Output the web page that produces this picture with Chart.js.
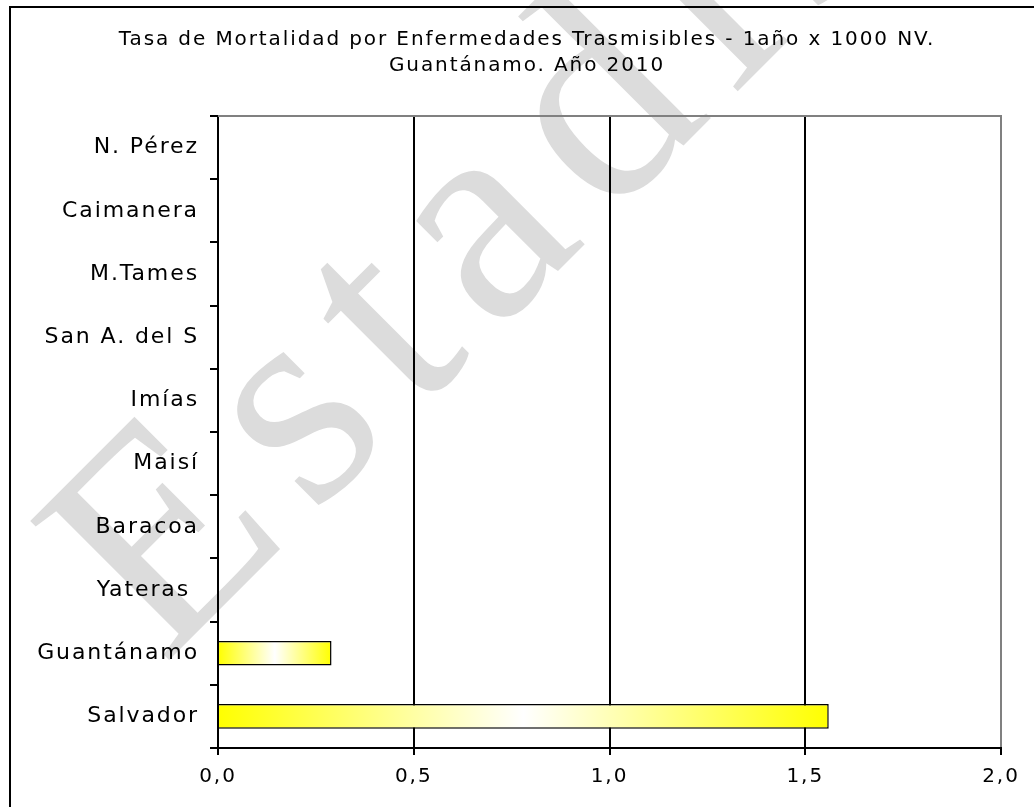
<!DOCTYPE html>
<html>
<head>
<meta charset="utf-8">
<script src="https://cdn.jsdelivr.net/npm/chart.js@4"></script>
<style>
  html, body { margin: 0; padding: 0; background: #fff; }
  canvas { display: block; }
</style>
</head>
<body>
<canvas id="myChart" width="1034" height="807"></canvas>
<script>
const categories = ['N. Pérez', 'Caimanera', 'M.Tames', 'San A. del S', 'Imías', 'Maisí', 'Baracoa', 'Yateras ', 'Guantánamo', 'Salvador'];
const tasa = [0, 0, 0, 0, 0, 0, 0, 0, 0.29, 1.56];
const tickLabels = ['0,0', '0,5', '1,0', '1,5', '2,0'];
const titleLines = ['Tasa de Mortalidad por Enfermedades Trasmisibles - 1año x 1000 NV.', 'Guantánamo. Año 2010'];
const watermark = 'Estadística';

const fuente = '"DejaVu Sans", Verdana, sans-serif';

// fondo, marca de agua y marco
const fondo = {
    id: 'fondo',
    afterLayout(chart) {
        // el titulo va centrado un poco a la derecha
        chart.titleBlock.left = 53;
    },
    beforeDraw(chart) {
        const ctx = chart.ctx;
        ctx.save();
        ctx.fillStyle = '#fff';
        ctx.fillRect(0, 0, chart.width, chart.height);
        ctx.translate(163, 666);
        ctx.rotate(-Math.PI / 4);
        ctx.letterSpacing = '28px';
        ctx.font = '300px "Liberation Serif", "Times New Roman", serif';
        ctx.fillStyle = '#dcdcdc';
        ctx.textBaseline = 'alphabetic';
        ctx.fillText(watermark, 0, 0);
        ctx.restore();

        ctx.save();
        ctx.strokeStyle = '#000';
        ctx.lineWidth = 2;
        ctx.strokeRect(10, 7, 2000, 2000);
        ctx.restore();

        ctx.letterSpacing = '1.9px';
    },
    beforeDatasetsDraw(chart) {
        const a = chart.chartArea;
        const ctx = chart.ctx;
        ctx.save();
        ctx.strokeStyle = '#808080';
        ctx.lineWidth = 2;
        ctx.beginPath();
        ctx.moveTo(a.left, a.top);
        ctx.lineTo(a.right + 1, a.top);
        ctx.stroke();
        ctx.restore();
    }
};

function degradado(c) {
    const chart = c.chart;
    if (!chart.chartArea) return '#ffff00';
    const x0 = chart.scales.x.getPixelForValue(0);
    const x1 = chart.scales.x.getPixelForValue(c.raw || 0);
    if (x1 - x0 < 1) return '#ffff00';
    const g = chart.ctx.createLinearGradient(x0, 0, x1, 0);
    g.addColorStop(0, '#ffff00');
    g.addColorStop(0.5, '#ffffff');
    g.addColorStop(1, '#ffff00');
    return g;
}

const ctx = document.getElementById('myChart');

new Chart(ctx, {
    type: 'bar',
    data: {
        labels: categories,
        datasets: [{
            label: 'Tasa',
            data: tasa,
            backgroundColor: degradado,
            borderColor: '#000',
            borderWidth: c => (c.raw > 0 ? 1.5 : 0),
            barPercentage: 0.39,
            categoryPercentage: 1
        }]
    },
    options: {
        indexAxis: 'y',
        responsive: false,
        animation: false,
        layout: { padding: { top: 0, left: 0, right: 33, bottom: 0 } },
        plugins: {
            legend: { display: false },
            tooltip: { enabled: false },
            title: {
                display: true,
                text: titleLines,
                color: '#000',
                font: { family: fuente, size: 20, weight: 'normal', lineHeight: 1.3 },
                padding: { top: 27, bottom: 37 }
            }
        },
        scales: {
            x: {
                min: 0,
                max: 2,
                afterFit: s => { s.height = 59; },
                ticks: {
                    stepSize: 0.5,
                    color: '#000',
                    padding: 10,
                    font: { family: fuente, size: 20 },
                    callback: (v, i) => tickLabels[i]
                },
                grid: {
                    color: c => (c.tick && c.tick.value === 2 ? '#808080' : '#000'),
                    lineWidth: 2,
                    tickColor: '#000',
                    tickWidth: 2,
                    tickLength: 7
                },
                border: { color: '#000', width: 2 }
            },
            y: {
                afterFit: s => { s.width = 218; },
                ticks: {
                    color: '#000',
                    padding: 11,
                    font: { family: fuente, size: 22 }
                },
                grid: {
                    drawOnChartArea: false,
                    color: '#000',
                    lineWidth: 2,
                    tickLength: 8
                },
                border: { color: '#000', width: 2 }
            }
        }
    },
    plugins: [fondo]
});
</script>
</body>
</html>
